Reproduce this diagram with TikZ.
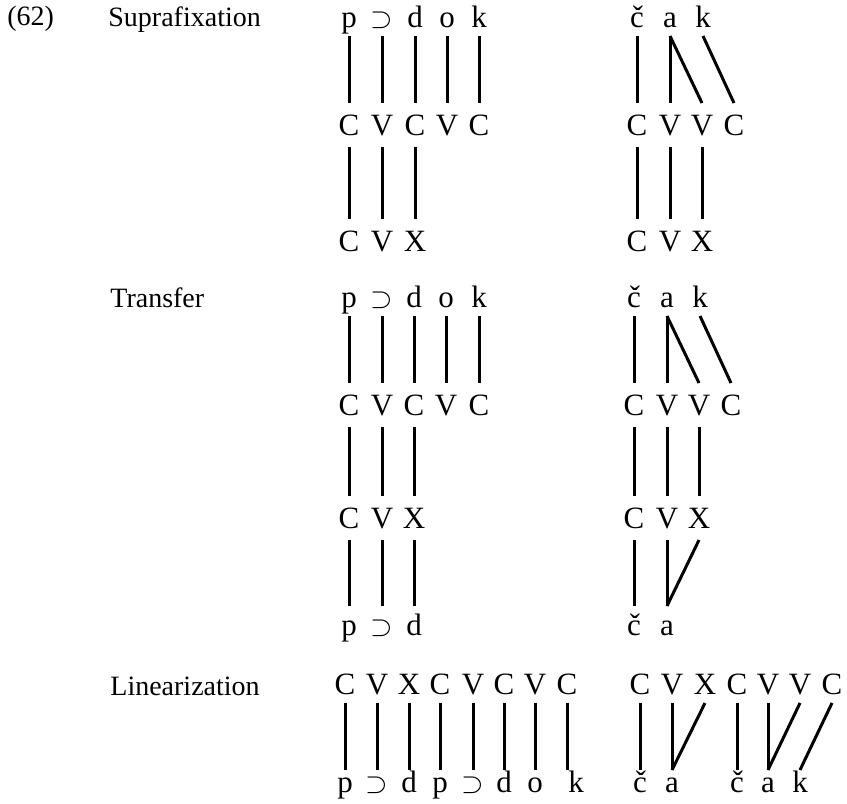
\documentclass[tikz,border=0pt]{standalone}
\usepackage{fontspec}
\setmainfont{Liberation Serif}
\tikzset{
  seg/.style={inner sep=0pt, anchor=base, text height=10pt, text depth=0pt,
              outer xsep=0pt, outer ysep=4.5pt, font=\fontsize{15.5}{17}\selectfont},
  cv/.style={seg, outer ysep=6pt},
  lab/.style={anchor=base west, inner sep=0pt, font=\fontsize{14}{16}\selectfont},
  assoc/.style={line width=1.5pt}
}

\begin{document}
\begin{tikzpicture}[x=0.5pt,y=-0.5pt]
\useasboundingbox (0,0) rectangle (847,804);
% labels
\node[lab] (num) at (7,25) {(62)};
\node[lab] (lsup) at (108,26) {Suprafixation};
\node[lab] (ltra) at (110,307) {Transfer};
\node[lab] (llin) at (110,695) {Linearization};

% Suprafixation, left
\node[seg] (SL1a) at (349,27) {p};
\node[seg] (SL1b) at (382,27) {$\supset$};
\node[seg] (SL1c) at (415,27) {d};
\node[seg] (SL1d) at (447,27) {o};
\node[seg] (SL1e) at (479,27) {k};
\node[cv] (SL2a) at (349,135) {C};
\node[cv] (SL2b) at (382,135) {V};
\node[cv] (SL2c) at (415,135) {C};
\node[cv] (SL2d) at (447,135) {V};
\node[cv] (SL2e) at (479,135) {C};
\node[cv] (SL3a) at (349,251) {C};
\node[cv] (SL3b) at (382,251) {V};
\node[cv] (SL3c) at (415,251) {X};
\draw[assoc] (SL1a.south) -- (SL2a.north);
\draw[assoc] (SL1b.south) -- (SL2b.north);
\draw[assoc] (SL1c.south) -- (SL2c.north);
\draw[assoc] (SL1d.south) -- (SL2d.north);
\draw[assoc] (SL1e.south) -- (SL2e.north);
\draw[assoc] (SL2a.south) -- (SL3a.north);
\draw[assoc] (SL2b.south) -- (SL3b.north);
\draw[assoc] (SL2c.south) -- (SL3c.north);

% Suprafixation, right
\node[seg] (SR1a) at (637,27) {č};
\node[seg] (SR1b) at (670,27) {a};
\node[seg] (SR1c) at (703,27) {k};
\node[cv] (SR2a) at (637,135) {C};
\node[cv] (SR2b) at (670,135) {V};
\node[cv] (SR2c) at (702,135) {V};
\node[cv] (SR2d) at (734,135) {C};
\node[cv] (SR3a) at (637,251) {C};
\node[cv] (SR3b) at (670,251) {V};
\node[cv] (SR3c) at (702,251) {X};
\draw[assoc] (SR1a.south) -- (SR2a.north);
\draw[assoc] (SR1b.south) -- (SR2b.north);
\draw[assoc] (SR1b.south) -- (SR2c.north);
\draw[assoc] (SR1c.south) -- (SR2d.north);
\draw[assoc] (SR2a.south) -- (SR3a.north);
\draw[assoc] (SR2b.south) -- (SR3b.north);
\draw[assoc] (SR2c.south) -- (SR3c.north);

% Transfer, left
\node[seg] (TL1a) at (349,307) {p};
\node[seg] (TL1b) at (382,307) {$\supset$};
\node[seg] (TL1c) at (414,307) {d};
\node[seg] (TL1d) at (446,307) {o};
\node[seg] (TL1e) at (479,307) {k};
\node[cv] (TL2a) at (349,415) {C};
\node[cv] (TL2b) at (382,415) {V};
\node[cv] (TL2c) at (414,415) {C};
\node[cv] (TL2d) at (446,415) {V};
\node[cv] (TL2e) at (479,415) {C};
\node[cv] (TL3a) at (349,528) {C};
\node[cv] (TL3b) at (382,528) {V};
\node[cv] (TL3c) at (414,528) {X};
\node[seg] (TL4a) at (349,635) {p};
\node[seg] (TL4b) at (382,635) {$\supset$};
\node[seg] (TL4c) at (414,635) {d};
\draw[assoc] (TL1a.south) -- (TL2a.north);
\draw[assoc] (TL1b.south) -- (TL2b.north);
\draw[assoc] (TL1c.south) -- (TL2c.north);
\draw[assoc] (TL1d.south) -- (TL2d.north);
\draw[assoc] (TL1e.south) -- (TL2e.north);
\draw[assoc] (TL2a.south) -- (TL3a.north);
\draw[assoc] (TL2b.south) -- (TL3b.north);
\draw[assoc] (TL2c.south) -- (TL3c.north);
\draw[assoc] (TL3a.south) -- (TL4a.north);
\draw[assoc] (TL3b.south) -- (TL4b.north);
\draw[assoc] (TL3c.south) -- (TL4c.north);

% Transfer, right
\node[seg] (TR1a) at (634,307) {č};
\node[seg] (TR1b) at (667,307) {a};
\node[seg] (TR1c) at (700,307) {k};
\node[cv] (TR2a) at (634,415) {C};
\node[cv] (TR2b) at (667,415) {V};
\node[cv] (TR2c) at (699,415) {V};
\node[cv] (TR2d) at (731,415) {C};
\node[cv] (TR3a) at (634,528) {C};
\node[cv] (TR3b) at (667,528) {V};
\node[cv] (TR3c) at (699,528) {X};
\node[seg] (TR4a) at (634,635) {č};
\node[seg] (TR4b) at (667,635) {a};
\draw[assoc] (TR1a.south) -- (TR2a.north);
\draw[assoc] (TR1b.south) -- (TR2b.north);
\draw[assoc] (TR1b.south) -- (TR2c.north);
\draw[assoc] (TR1c.south) -- (TR2d.north);
\draw[assoc] (TR2a.south) -- (TR3a.north);
\draw[assoc] (TR2b.south) -- (TR3b.north);
\draw[assoc] (TR2c.south) -- (TR3c.north);
\draw[assoc] (TR3a.south) -- (TR4a.north);
\draw[assoc] (TR3b.south) -- (TR4b.north);
\draw[assoc] (TR3c.south) -- (TR4b.north);

% Linearization
\begin{scope}[cv/.append style={outer ysep=4.5pt}, seg/.append style={outer ysep=1pt}]
\node[cv] (LL1a) at (345,694) {C};
\node[cv] (LL1b) at (377,694) {V};
\node[cv] (LL1c) at (409,694) {X};
\node[cv] (LL1d) at (440,694) {C};
\node[cv] (LL1e) at (473,694) {V};
\node[cv] (LL1f) at (504,694) {C};
\node[cv] (LL1g) at (535,694) {V};
\node[cv] (LL1h) at (567,694) {C};
\node[seg] (LL2a) at (345,792) {p};
\node[seg] (LL2b) at (377,792) {$\supset$};
\node[seg] (LL2c) at (409,792) {d};
\node[seg] (LL2d) at (440,792) {p};
\node[seg] (LL2e) at (473,792) {$\supset$};
\node[seg] (LL2f) at (504,792) {d};
\node[seg] (LL2g) at (535,792) {o};
\node[seg] (LL2h) at (576,792) {k};
\draw[assoc] (LL1a.south) -- (LL2a.north);
\draw[assoc] (LL1b.south) -- (LL2b.north);
\draw[assoc] (LL1c.south) -- (LL2c.north);
\draw[assoc] (LL1d.south) -- (LL2d.north);
\draw[assoc] (LL1e.south) -- (LL2e.north);
\draw[assoc] (LL1f.south) -- (LL2f.north);
\draw[assoc] (LL1g.south) -- (LL2g.north);
\draw[assoc] (LL1h.south) -- (LL1h.south |- LL2h.north);

\node[cv] (LR1a) at (640,694) {C};
\node[cv] (LR1b) at (672,694) {V};
\node[cv] (LR1c) at (705,694) {X};
\node[cv] (LR1d) at (737,694) {C};
\node[cv] (LR1e) at (768,694) {V};
\node[cv] (LR1f) at (800,694) {V};
\node[cv] (LR1g) at (832,694) {C};
\node[seg] (LR2a) at (640,792) {č};
\node[seg] (LR2b) at (672,792) {a};
\node[seg] (LR2c) at (737,792) {č};
\node[seg] (LR2d) at (768,792) {a};
\node[seg] (LR2e) at (800,792) {k};
\draw[assoc] (LR1a.south) -- (LR2a.north);
\draw[assoc] (LR1b.south) -- (LR2b.north);
\draw[assoc] (LR1c.south) -- (LR2b.north);
\draw[assoc] (LR1d.south) -- (LR2c.north);
\draw[assoc] (LR1e.south) -- (LR2d.north);
\draw[assoc] (LR1f.south) -- (LR2d.north);
\draw[assoc] (LR1g.south) -- (LR2e.north);
\end{scope}
\end{tikzpicture}
\end{document}
